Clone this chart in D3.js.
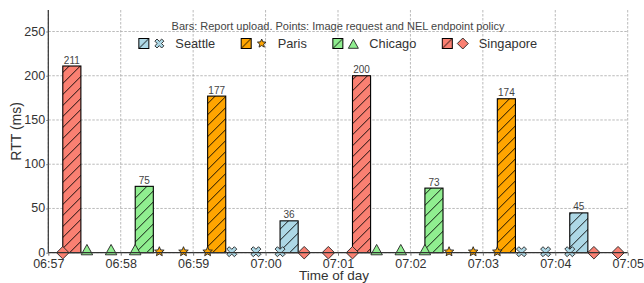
<!DOCTYPE html>
<html>
<head>
<meta charset="utf-8">
<script src="https://cdn.jsdelivr.net/npm/d3@7"></script>
<style>
  body { margin: 0; background: #fff; }
  svg { font-family: "Liberation Sans", Arial, sans-serif; }
</style>
</head>
<body>
<div id="chart"></div>
<script>
// data
const cities = ['Seattle', 'Paris', 'Chicago', 'Singapore'];
const cityColors = ['#add8e6', '#ffa500', '#90ee90', '#fa8072'];
const cityMarkers = ['x', 'star', 'triangle', 'diamond'];

// bars = report upload
const barTimes = ['06:57:12', '06:58:12', '06:59:12', '07:00:12', '07:01:12', '07:02:12', '07:03:12', '07:04:12'];
const barCities = ['Singapore', 'Chicago', 'Paris', 'Seattle', 'Singapore', 'Chicago', 'Paris', 'Seattle'];
const barValues = [211, 75, 177, 36, 200, 73, 174, 45];

// points = image request + NEL endpoint policy
const pointTimes = ['06:57:12', '06:57:32', '06:57:52', '06:58:12', '06:58:32', '06:58:52',
  '06:59:12', '06:59:32', '06:59:52', '07:00:12', '07:00:32', '07:00:52',
  '07:01:12', '07:01:32', '07:01:52', '07:02:12', '07:02:32', '07:02:52',
  '07:03:12', '07:03:32', '07:03:52', '07:04:12', '07:04:32', '07:04:52'];
const pointCities = ['Singapore', 'Chicago', 'Chicago', 'Chicago', 'Paris', 'Paris',
  'Paris', 'Seattle', 'Seattle', 'Seattle', 'Singapore', 'Singapore',
  'Singapore', 'Chicago', 'Chicago', 'Chicago', 'Paris', 'Paris',
  'Paris', 'Seattle', 'Seattle', 'Seattle', 'Singapore', 'Singapore'];
const pointValues = [0, 0, 0, 0, 0, 0, 0, 0, 0, 0, 0, 0, 0, 0, 0, 0, 0, 0, 0, 0, 0, 0, 0, 0];

const xTickLabels = ['06:57', '06:58', '06:59', '07:00', '07:01', '07:02', '07:03', '07:04', '07:05'];
const yTicks = [0, 50, 100, 150, 200, 250];

const parseT = s => d3.timeParse('%Y-%m-%d %H:%M:%S')('2024-01-01 ' + s);
const parseTick = s => d3.timeParse('%Y-%m-%d %H:%M')('2024-01-01 ' + s);
const colorOf = c => cityColors[cities.indexOf(c)];
const markerOf = c => cityMarkers[cities.indexOf(c)];

// layout
const W = 644, H = 283;
const margin = {top: 10, right: 16.3, bottom: 30.3, left: 48.3};
const cw = W - margin.left - margin.right;
const ch = H - margin.top - margin.bottom;

const svg = d3.select('#chart').append('svg').attr('width', W).attr('height', H);

// hatch patterns
const defs = svg.append('defs');
cities.forEach((c, i) => {
  const p = defs.append('pattern')
    .attr('id', 'hatch' + i)
    .attr('patternUnits', 'userSpaceOnUse')
    .attr('width', 11).attr('height', 11);
  p.append('rect').attr('width', 11).attr('height', 11).attr('fill', cityColors[i]);
  p.append('path')
    .attr('d', 'M-1,1 L1,-1 M0,11 L11,0 M10,12 L12,10')
    .attr('stroke', '#000').attr('stroke-width', 0.9);
});

const g = svg.append('g').attr('transform', `translate(${margin.left},${margin.top})`);

const x = d3.scaleTime()
  .domain([parseTick('06:57'), parseTick('07:05')])
  .range([0, cw]);
const y = d3.scaleLinear().domain([0, 274.3]).range([ch, 0]);

// grid
g.append('g').selectAll('line')
  .data(yTicks)
  .join('line')
  .attr('x1', 0).attr('x2', cw)
  .attr('y1', d => y(d)).attr('y2', d => y(d))
  .attr('stroke', '#aaa').attr('stroke-width', 0.8).attr('stroke-dasharray', '2.5,1.5');
g.append('g').selectAll('line')
  .data(xTickLabels.map(parseTick))
  .join('line')
  .attr('x1', d => x(d)).attr('x2', d => x(d))
  .attr('y1', 0).attr('y2', ch)
  .attr('stroke', '#aaa').attr('stroke-width', 0.8).attr('stroke-dasharray', '2.5,1.5');

// marker shapes (px)
function markerPath(type, s) {
  if (type === 'diamond') {
    const r = s / 2;
    return `M0,${-r}L${r},0L0,${r}L${-r},0Z`;
  }
  if (type === 'triangle') {
    const r = s / 2;
    return `M0,${-r}L${r},${r * 0.8}L${-r},${r * 0.8}Z`;
  }
  if (type === 'star') {
    const R = s / 2, r = R * 0.45;
    let d = '';
    for (let k = 0; k < 10; k++) {
      const a = -Math.PI / 2 + k * Math.PI / 5;
      const rr = k % 2 ? r : R;
      d += (k ? 'L' : 'M') + (rr * Math.cos(a)).toFixed(2) + ',' + (rr * Math.sin(a)).toFixed(2);
    }
    return d + 'Z';
  }
  // filled X
  const a = s / 2, b = s * 0.24;
  const pts = [[0, -b], [a - b, -a], [a, -a + b], [b, 0], [a, a - b], [a - b, a],
    [0, b], [-a + b, a], [-a, a - b], [-b, 0], [-a, -a + b], [-a + b, -a]];
  return 'M' + pts.map(p => p.join(',')).join('L') + 'Z';
}
const markerSize = {diamond: 12.5, triangle: 11.5, star: 10, x: 10};
const markerDy = {diamond: 0, triangle: -2.5, star: -1, x: -1};

// bars
const barData = barTimes.map((t, i) => ({t: parseT(t), city: barCities[i], v: barValues[i]}));
const barW = d => x(d3.timeSecond.offset(d.t, 15)) - x(d.t);
g.append('g').selectAll('rect')
  .data(barData)
  .join('rect')
  .attr('x', d => x(d.t))
  .attr('y', d => y(d.v))
  .attr('width', barW)
  .attr('height', d => y(0) - y(d.v))
  .attr('fill', d => `url(#hatch${cities.indexOf(d.city)})`)
  .attr('stroke', '#000').attr('stroke-width', 1.1);

g.append('g').selectAll('text')
  .data(barData)
  .join('text')
  .attr('x', d => x(d.t) + barW(d) / 2)
  .attr('y', d => y(d.v) - 2.5)
  .attr('text-anchor', 'middle')
  .attr('font-size', 10)
  .attr('fill', '#444')
  .text(d => d.v);

// points
const pointData = pointTimes.map((t, i) => ({t: parseT(t), city: pointCities[i], v: pointValues[i]}));
g.append('g').selectAll('path')
  .data(pointData)
  .join('path')
  .attr('transform', d => `translate(${x(d.t)},${y(d.v) + markerDy[markerOf(d.city)]})`)
  .attr('d', d => markerPath(markerOf(d.city), markerSize[markerOf(d.city)]))
  .attr('fill', d => colorOf(d.city))
  .attr('stroke', '#222').attr('stroke-width', 0.9);

// axes
const xAxis = d3.axisBottom(x)
  .tickValues(xTickLabels.map(parseTick))
  .tickFormat(d3.timeFormat('%H:%M'))
  .tickSizeInner(3).tickSizeOuter(0).tickPadding(3.5);
const xg = g.append('g').attr('transform', `translate(0,${ch})`).call(xAxis);
const yAxis = d3.axisLeft(y).tickValues(yTicks).tickSizeInner(2).tickSizeOuter(0).tickPadding(1.2);
const yg = g.append('g').call(yAxis);
[xg, yg].forEach(a => {
  a.selectAll('text').attr('font-size', 12.5).attr('fill', '#333').attr('font-family', null);
  a.selectAll('.tick line').attr('stroke', '#777');
  a.select('.domain').attr('stroke', '#333').attr('stroke-width', 1.2);
});
xg.select('.domain').attr('d', `M0,0H${cw}`);
yg.select('.domain').attr('d', `M0,0V${ch}`);
yg.selectAll('text').attr('dy', '0.28em');

// axis labels
svg.append('text')
  .attr('x', margin.left + cw / 2 - 4).attr('y', 280.3)
  .attr('text-anchor', 'middle').attr('font-size', 13.5).attr('fill', '#333')
  .text('Time of day');
svg.append('text')
  .attr('transform', `translate(20.5,${margin.top + ch / 2}) rotate(-90)`)
  .attr('text-anchor', 'middle').attr('font-size', 14).attr('fill', '#333')
  .text('RTT (ms)');

// legend
const cx = margin.left + cw / 2;
svg.append('text')
  .attr('x', cx).attr('y', 29.5)
  .attr('text-anchor', 'middle').attr('font-size', 11).attr('fill', '#444')
  .text('Bars: Report upload. Points: Image request and NEL endpoint policy');

const leg = svg.append('g');
const items = leg.selectAll('g').data(cities).join('g');
items.append('rect')
  .attr('x', 0).attr('y', -5).attr('width', 10).attr('height', 10)
  .attr('fill', (d, i) => `url(#hatchL${i})`)
  .attr('stroke', '#000').attr('stroke-width', 1);
cities.forEach((c, i) => {
  const p = defs.append('pattern').attr('id', 'hatchL' + i)
    .attr('patternUnits', 'objectBoundingBox').attr('width', 1).attr('height', 1);
  p.append('rect').attr('width', 10).attr('height', 10).attr('fill', cityColors[i]);
  p.append('path').attr('d', 'M0,10L10,0').attr('stroke', '#000').attr('stroke-width', 0.9);
});
const legSize = {diamond: 11, triangle: 10, star: 9, x: 9};
items.append('path')
  .attr('transform', (d, i) => `translate(20.5,${cityMarkers[i] === 'triangle' ? 0.8 : 0})`)
  .attr('d', (d, i) => markerPath(cityMarkers[i], legSize[cityMarkers[i]]))
  .attr('fill', (d, i) => cityColors[i])
  .attr('stroke', '#222').attr('stroke-width', 0.9);
items.append('text')
  .attr('x', 36.5).attr('y', 4.5)
  .attr('font-size', 12.8).attr('fill', '#333')
  .text(d => d);
let off = 0;
items.each(function () {
  const w = this.getBBox().width;
  d3.select(this).attr('transform', `translate(${off},0)`);
  off += w + 26;
});
const total = off - 26;
leg.attr('transform', `translate(${cx - total / 2},43.5)`);
</script>
</body>
</html>
